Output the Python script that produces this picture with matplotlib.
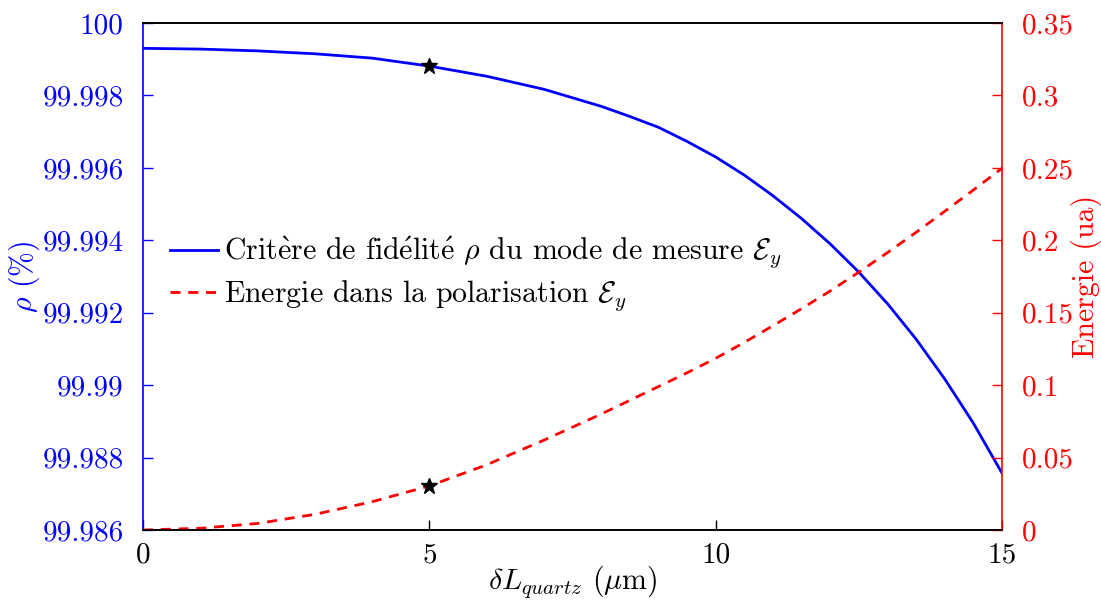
import matplotlib
matplotlib.use('Agg')
import matplotlib.pyplot as plt
from matplotlib.ticker import FuncFormatter

plt.rcParams['font.family'] = ['cmr10', 'Liberation Serif']
plt.rcParams['mathtext.fontset'] = 'cm'
plt.rcParams['axes.formatter.use_mathtext'] = True
plt.rcParams['axes.unicode_minus'] = False

# données
dl = [0, 1, 2, 3, 4, 5, 6, 7, 8, 8.5, 9, 9.5, 10, 10.5, 11, 11.5,
      12, 12.5, 13, 13.5, 14, 14.5, 15]  # delta L quartz (um)
rho = [99.99930, 99.99928, 99.99923, 99.99915, 99.99903, 99.99881, 99.99853, 99.99817,
       99.99770, 99.99742, 99.99712, 99.99673, 99.99630, 99.99580, 99.99523, 99.99460,
       99.99390, 99.99312, 99.99225, 99.99127, 99.99017, 99.98895, 99.98757]
energie = [0.0, 0.0012, 0.0045, 0.0108, 0.0195, 0.0304, 0.0450, 0.0620,
           0.0800, 0.0895, 0.0990, 0.1085, 0.1185, 0.1295, 0.1410, 0.1528,
           0.1650, 0.1780, 0.1915, 0.2055, 0.2200, 0.2347, 0.2497]
# point marqué (étoile)
pt_x = 5
pt_rho = 99.99881
pt_e = 0.0304

xticks = [0, 5, 10, 15]
rho_ticks = [99.986, 99.988, 99.990, 99.992, 99.994, 99.996, 99.998, 100.0]
e_ticks = [0, 0.05, 0.1, 0.15, 0.2, 0.25, 0.3, 0.35]

lab_rho = r'Crit$\grave{\rm e}$re de fid$\acute{\rm e}$lit$\acute{\rm e}$ $\rho$ du mode de mesure $\mathcal{E}_y$'
lab_e = r'Energie dans la polarisation $\mathcal{E}_y$'

fs = 21.5   # textes
fst = 21    # graduations
fig = plt.figure(figsize=(11.01, 6.0), dpi=100)
ax = fig.add_axes([143 / 1101, 70 / 600, 859 / 1101, 507 / 600])
ax2 = ax.twinx()

l1, = ax.plot(dl, rho, color='blue', lw=2.0, label=lab_rho)
ax.plot(pt_x, pt_rho, '*', color='black', ms=12, zorder=5)
l2, = ax2.plot(dl, energie, color='red', lw=2.0, dashes=(3.6, 2.8), label=lab_e)
ax2.plot(pt_x, pt_e, '*', color='black', ms=12, zorder=5)

ax.set_xlim(0, 15)
ax.set_ylim(99.986, 100)
ax2.set_ylim(0, 0.35)
ax.set_xticks(xticks)
ax.set_yticks(rho_ticks)
ax2.set_yticks(e_ticks)
fmt = FuncFormatter(lambda v, p: '%g' % round(v, 6))
ax.yaxis.set_major_formatter(fmt)
ax2.yaxis.set_major_formatter(fmt)
ax.xaxis.set_major_formatter(FuncFormatter(lambda v, p: '%g' % v))

ax.tick_params(axis='x', direction='in', length=7, width=1, labelsize=fst, pad=9, colors='black', top=False)
ax.tick_params(axis='y', direction='in', length=7, width=1, labelsize=fst, pad=14, colors='blue')
ax2.tick_params(axis='y', direction='in', length=7, width=1, labelsize=fst, pad=14, colors='red')

ax.spines['left'].set_color('blue')
ax.spines['right'].set_visible(False)
ax2.spines['left'].set_visible(False)
ax2.spines['right'].set_color('red')
for a in (ax, ax2):
    for s in a.spines.values():
        s.set_linewidth(1.2)

ax.set_xlabel(r'$\delta L_{quartz}$ ($\mu$m)', fontsize=fs, labelpad=-4)
ax.set_ylabel(r'$\rho$ (%)', fontsize=fs, color='blue', labelpad=0)
ax2.set_ylabel('Energie (ua)', fontsize=fs, color='red', labelpad=-2)

ax2.legend(handles=[l1, l2], loc='center left', bbox_to_anchor=(0.0, 0.505),
           frameon=False, fontsize=fs, handlelength=1.6, handletextpad=0.2,
           labelspacing=0.25, borderaxespad=0.5)

fig.savefig('out.png', dpi=100)
